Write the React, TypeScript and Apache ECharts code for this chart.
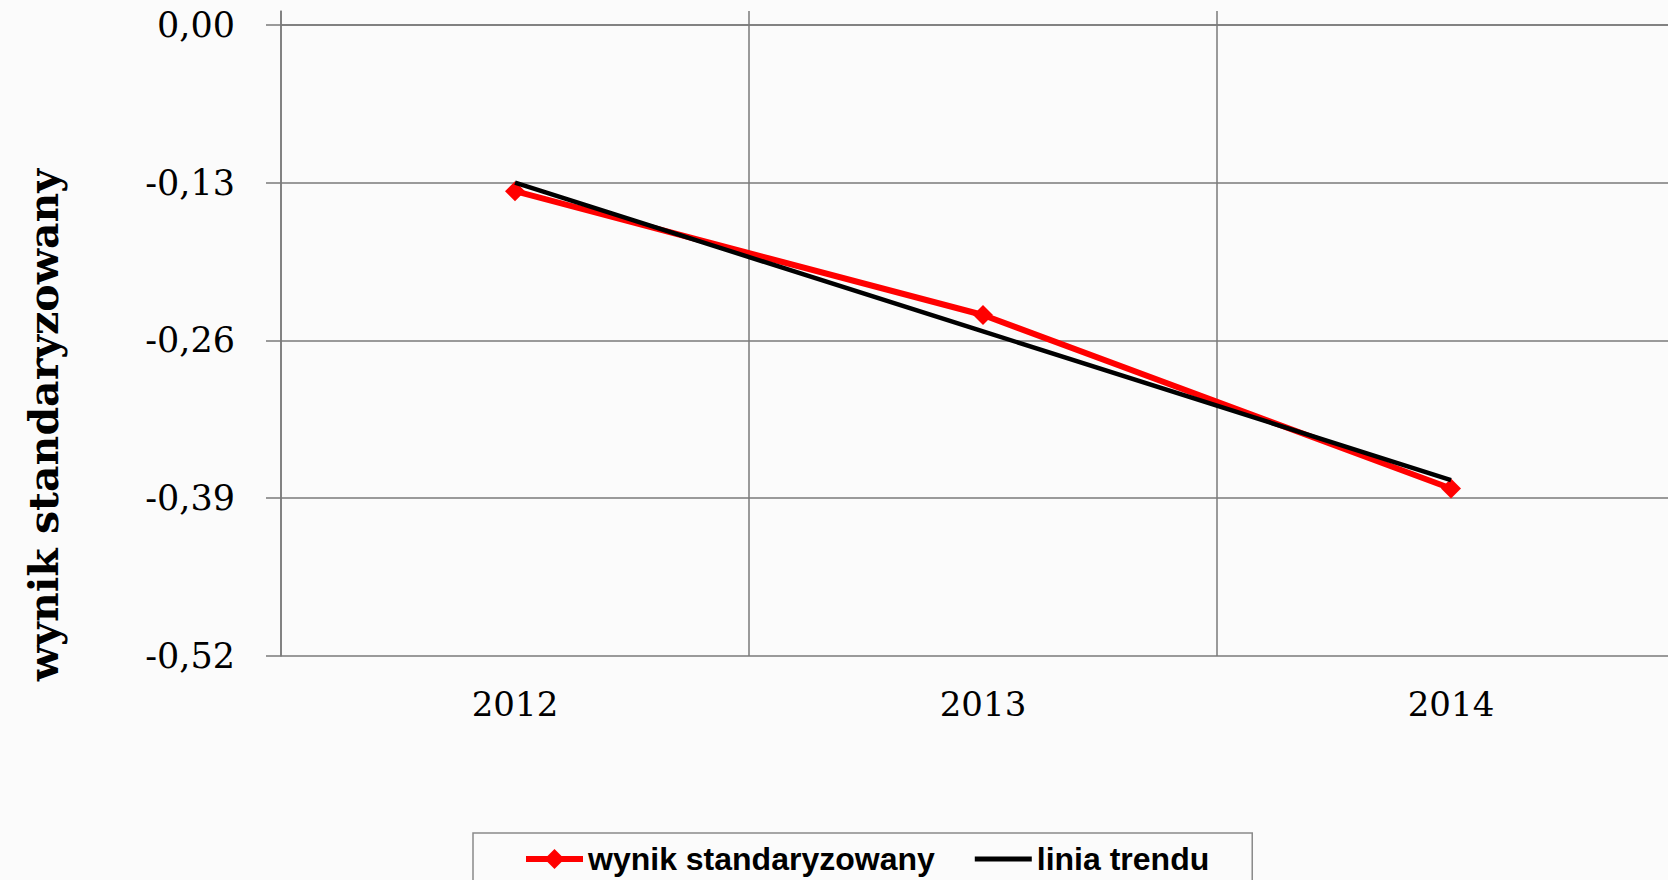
import React, { useEffect, useRef } from "react";
import * as echarts from "echarts";

const years = ["2012", "2013", "2014"];
const wynik = [-0.137, -0.239, -0.382];
const trend = [-0.130, -0.2525, -0.375];
const yTicks = [-0.52, -0.39, -0.26, -0.13, 0];
const yTitle = "wynik standaryzowany";
const seriesNames = ["wynik standaryzowany", "linia trendu"];

const GRID = "#7a7a7a";
const BG = "#fbfbfb";

export default function App() {
  const ref = useRef<HTMLDivElement>(null);
  useEffect(() => {
    if (!ref.current) return;
    const chart = echarts.init(ref.current, null, { renderer: "svg" });
    chart.setOption({
      animation: false,
      backgroundColor: BG,
      grid: { left: 281, top: 11, right: 0, bottom: 224, containLabel: false },
      xAxis: {
        type: "category",
        data: years,
        boundaryGap: true,
        axisLine: { show: true, lineStyle: { color: GRID, width: 1.5 } },
        axisTick: { show: false },
        axisLabel: {
          margin: 31,
          color: "#000",
          fontFamily: "DejaVu Serif",
          fontSize: 34,
        },
        splitLine: { show: true, lineStyle: { color: GRID, width: 1.5 } },
      },
      yAxis: {
        type: "value",
        min: -0.52,
        max: 0.0115,
        interval: 0.13,
        axisLine: { show: true, lineStyle: { color: GRID, width: 1.5 } },
        axisTick: {
          show: true,
          length: 15,
          customValues: yTicks,
          lineStyle: { color: GRID, width: 1.5 },
        },
        axisLabel: {
          margin: 46,
          color: "#000",
          fontFamily: "DejaVu Serif",
          fontSize: 35,
          customValues: yTicks,
          padding: [6, 0, 0, 0],
          formatter: (v: number) => (v > 0.001 ? "" : v.toFixed(2).replace(".", ",")),
        },
        splitLine: {
          show: true,
          lineStyle: {
            color: [GRID, GRID, GRID, GRID, GRID, "rgba(0,0,0,0)"],
            width: 1.5,
          },
        },
      },
      legend: {
        left: 473,
        top: 833,
        orient: "horizontal",
        padding: [10, 43, 10, 50],
        itemGap: 40,
        itemWidth: 57,
        itemHeight: 25,
        borderColor: "#8a8a8a",
        borderWidth: 1.5,
        backgroundColor: BG,
        lineStyle: { width: 6 },
        textStyle: {
          color: "#000",
          fontFamily: "Liberation Sans",
          fontWeight: "bold",
          fontSize: 32,
        },
        data: [
          { name: seriesNames[0] },
          { name: seriesNames[1], icon: "path://M0,0 L57,0 L57,5 L0,5 Z" },
        ],
      },
      graphic: [
        {
          type: "text",
          x: 44,
          y: 425,
          rotation: Math.PI / 2,
          style: {
            text: yTitle,
            fontFamily: "DejaVu Serif",
            fontWeight: "bold",
            fontSize: 41,
            fill: "#000",
            align: "center",
            verticalAlign: "middle",
          },
        },
      ],
      series: [
        {
          name: seriesNames[0],
          type: "line",
          data: wynik,
          symbol: "diamond",
          symbolSize: 20,
          lineStyle: { color: "#ff0000", width: 6 },
          itemStyle: { color: "#ff0000" },
          z: 2,
        },
        {
          name: seriesNames[1],
          type: "line",
          data: trend,
          symbol: "none",
          lineStyle: { color: "#000000", width: 4.5 },
          itemStyle: { color: "#000000" },
          z: 3,
        },
      ],
    });
    return () => chart.dispose();
  }, []);
  return (
    <div
      style={{
        position: "fixed",
        left: 0,
        top: 0,
        width: 1668,
        height: 880,
        overflow: "hidden",
      }}
    >
      <div ref={ref} style={{ width: 1685, height: 880 }} />
    </div>
  );
}
